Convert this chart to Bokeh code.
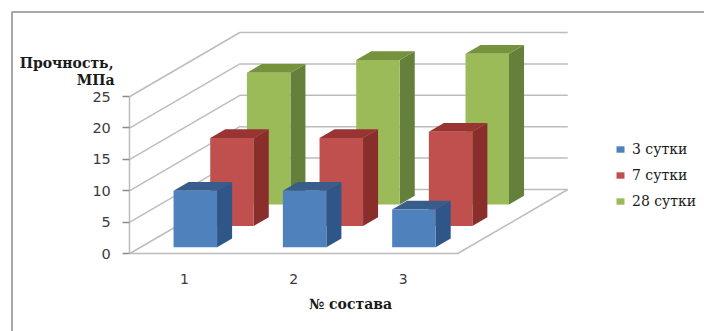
from bokeh.embed import file_html
from bokeh.resources import INLINE
from bokeh.plotting import figure
from bokeh.models import (FixedTicker, Label, Legend, LegendItem,
                          LinearAxis, Range1d)

# Strength of each mix, MPa
compositions = [1, 2, 3]
strength_3d = [9, 9, 6]
strength_7d = [14, 14, 15]
strength_28d = [21, 23, 24]
y_ticks = [0, 5, 10, 15, 20, 25]
series_names = ["3 сутки", "7 сутки", "28 сутки"]
y_title = ["Прочность,", "МПа"]
x_title = "№ состава"

W, H = 704, 331
PX_PER_CAT = 109.3
PX_PER_VAL = 6.28
X1_PX, Y0_PX = 184.0, 253.0

# Data ranges fill the page, so one category or one MPa has a fixed pixel length
x_min = 1 - X1_PX / PX_PER_CAT
x_max = x_min + W / PX_PER_CAT
y_max = Y0_PX / PX_PER_VAL
y_min = y_max - H / PX_PER_VAL

# Oblique projection: one row of depth moves a point right and up
ROW_DX = 36.67 / PX_PER_CAT
ROW_DY = 21.33 / PX_PER_VAL
ROWS = 3
BAR_W = 43.5 / PX_PER_CAT
BAR_DEPTH = 0.41
BAR_GAP = (1 - BAR_DEPTH) / 2
FLOOR_L, FLOOR_R = 0.5, 3.5


def proj(cat, depth, val):
    return cat + depth * ROW_DX, val + depth * ROW_DY


p = figure(width=W, height=H, output_backend="svg", toolbar_location=None,
           x_range=Range1d(x_min, x_max), y_range=Range1d(y_min, y_max),
           x_axis_location=None, y_axis_location=None, min_border=0,
           outline_line_color=None, background_fill_color="white",
           border_fill_color="white")
p.grid.visible = False

GRID = "#BDBDBD"
GRID_W = 1.5

# Page frame along the top and the left
frame_x = x_min + 11.5 / PX_PER_CAT
frame_y = y_max - 11.5 / PX_PER_VAL
p.line([frame_x, frame_x, x_max], [y_min, frame_y, frame_y], line_color="#A8A8A8", line_width=2)

# Walls and floor of the chart box
for v in y_ticks:
    xs, ys = zip(proj(FLOOR_L, 0, v), proj(FLOOR_L, ROWS, v), proj(FLOOR_R, ROWS, v))
    p.line(list(xs), list(ys), line_color=GRID, line_width=GRID_W)
xs, ys = zip(proj(FLOOR_L, 0, 0), proj(FLOOR_R, 0, 0), proj(FLOOR_R, ROWS, 0))
p.line(list(xs), list(ys), line_color=GRID, line_width=GRID_W)


def draw_series(values, row, front, side, top):
    d0, d1 = row + BAR_GAP, row + BAR_GAP + BAR_DEPTH
    fx, fy, sx, sy, tx, ty = [], [], [], [], [], []
    for c, v in zip(compositions, values):
        l, r = c - BAR_W / 2, c + BAR_W / 2
        q = [proj(l, d0, 0), proj(r, d0, 0), proj(r, d0, v), proj(l, d0, v)]
        fx.append([a for a, _ in q]); fy.append([b for _, b in q])
        q = [proj(r, d0, 0), proj(r, d1, 0), proj(r, d1, v), proj(r, d0, v)]
        sx.append([a for a, _ in q]); sy.append([b for _, b in q])
        q = [proj(l, d0, v), proj(r, d0, v), proj(r, d1, v), proj(l, d1, v)]
        tx.append([a for a, _ in q]); ty.append([b for _, b in q])
    p.patches(sx, sy, fill_color=side, line_color=None)
    p.patches(tx, ty, fill_color=top, line_color=None)
    return p.patches(fx, fy, fill_color=front, line_color=None)


# Back row first so nearer bars cover it
r28 = draw_series(strength_28d, 2, "#9BBB59", "#65803A", "#76923C")
r7 = draw_series(strength_7d, 1, "#C0504D", "#8A2E2C", "#983533")
r3 = draw_series(strength_3d, 0, "#4F81BD", "#2F5688", "#385D8A")

# Value axis on the front left edge
yax = LinearAxis(ticker=FixedTicker(ticks=y_ticks), fixed_location=proj(FLOOR_L, 0, 0)[0],
                 bounds=(0, 25), axis_line_color=GRID, axis_line_width=GRID_W,
                 major_tick_line_color="#8C8C8C", major_tick_line_width=1.5,
                 major_tick_in=0, major_tick_out=7, minor_tick_line_color=None,
                 major_label_text_font="DejaVu Sans", major_label_text_font_size="14.5px",
                 major_label_text_color="#3C3C3C", major_label_standoff=12)
p.add_layout(yax, "left")

# Category labels under the front edge of the floor
xax = LinearAxis(ticker=FixedTicker(ticks=compositions), fixed_location=0,
                 axis_line_color=None, major_tick_line_color=None, minor_tick_line_color=None,
                 major_label_text_font="DejaVu Sans", major_label_text_font_size="14px",
                 major_label_text_color="#3C3C3C", major_label_standoff=14)
p.add_layout(xax, "below")

# Axis titles
TITLE_FONT = "DejaVu Serif"
for text, px_y, px_x in [(y_title[0], 62, 113), (y_title[1], 79, 114)]:
    p.add_layout(Label(x=px_x, y=H - px_y, x_units="screen", y_units="screen", text=text,
                       text_font=TITLE_FONT, text_font_style="bold", text_font_size="14px",
                       text_color="#1A1A1A", text_align="right", text_baseline="middle"))
p.add_layout(Label(x=350, y=H - 303, x_units="screen", y_units="screen", text=x_title,
                   text_font=TITLE_FONT, text_font_style="bold", text_font_size="14px",
                   text_color="#1A1A1A", text_align="center", text_baseline="middle"))

legend = Legend(items=[LegendItem(label=n, renderers=[r])
                       for n, r in zip(series_names, [r3, r7, r28])],
                location=(615, H - 209), orientation="vertical",
                border_line_color=None, background_fill_alpha=0,
                label_text_font="DejaVu Serif", label_text_font_size="14px",
                label_text_color="#1A1A1A", glyph_width=10, glyph_height=8,
                label_standoff=7, spacing=10, margin=0, padding=4)
p.add_layout(legend, "center")

open("out.html", "w").write(file_html(p, INLINE))
